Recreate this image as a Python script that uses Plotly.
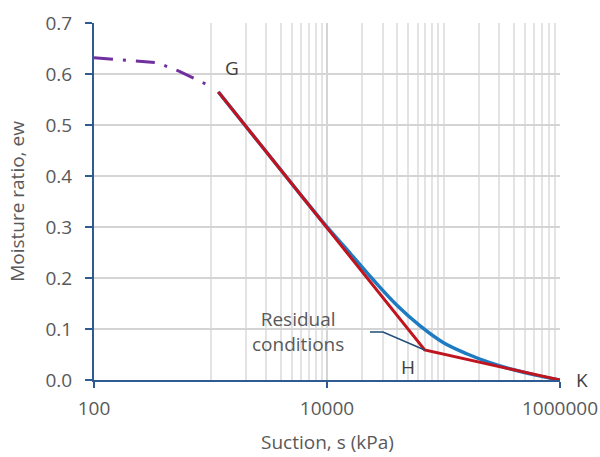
import plotly.graph_objects as go

# Data
purple_s = [100, 150, 350, 530, 810, 1000]
purple_ew = [0.632, 0.629, 0.622, 0.606, 0.587, 0.576]

blue_s = [1167, 3000, 6000, 10000, 16000, 25000, 40000, 63000, 100000, 160000, 250000, 400000, 630000, 1000000]
blue_ew = [0.565, 0.448, 0.362, 0.300, 0.247, 0.196, 0.146, 0.106, 0.073, 0.051, 0.034, 0.020, 0.009, 0.0]

red_s = [1167, 69000, 1000000]
red_ew = [0.565, 0.0588, 0.0]

leader_s = [23400, 30250, 69000]
leader_ew = [0.094, 0.094, 0.0588]

x_tickvals = [100, 10000, 1000000]
x_ticktext = ["100", "10000", "1000000"]
minor_vals = [m * 10 ** e for e in (3, 4, 5) for m in range(1, 10)] + [1000000]

TXT = "#595959"
AX = "#2F5A92"
FONT = "Open Sans"
FS = 19

fig = go.Figure()
fig.add_trace(go.Scatter(x=purple_s, y=purple_ew, mode="lines",
                         line=dict(color="#7030A0", width=3, dash="19px,10px,3px,10px"),
                         hoverinfo="skip", showlegend=False))
fig.add_trace(go.Scatter(x=blue_s, y=blue_ew, mode="lines", line_shape="spline",
                         line=dict(color="#1F7BC1", width=3.5, smoothing=1.0),
                         showlegend=False))
fig.add_trace(go.Scatter(x=red_s, y=red_ew, mode="lines",
                         line=dict(color="#C0141E", width=3),
                         showlegend=False))
fig.add_trace(go.Scatter(x=leader_s, y=leader_ew, mode="lines",
                         line=dict(color="#1F4E79", width=1.5),
                         showlegend=False))

ann_font = dict(family=FONT, size=FS, color="#404040")
fig.add_annotation(x=3.185, y=0.612, text="G", showarrow=False, font=ann_font)
fig.add_annotation(x=4.695, y=0.026, text="H", showarrow=False, font=ann_font)
fig.add_annotation(x=1.064, xref="paper", y=0.0, yref="y", text="K", showarrow=False, font=ann_font)
fig.add_annotation(x=3.751, y=0.096, text="Residual<br>conditions", showarrow=False,
                   font=dict(family=FONT, size=FS, color=TXT), align="center")
# x-axis title placed as annotation (below the tick labels)
fig.add_annotation(x=0.5, xref="paper", y=-0.175, yref="paper", yanchor="middle", xanchor="center",
                   text="Suction, s (kPa)", borderpad=0,
                   showarrow=False, font=dict(family=FONT, size=FS, color=TXT))

fig.update_layout(
    width=600, height=457,
    margin=dict(l=94, r=40, t=23, b=77),
    paper_bgcolor="white", plot_bgcolor="white",
    font=dict(family=FONT, size=FS, color=TXT),
    xaxis=dict(
        type="log", range=[2, 6],
        tickvals=x_tickvals, ticktext=x_ticktext,
        showgrid=True, gridcolor="#d4d4d4", gridwidth=1.5,
        minor=dict(tickvals=minor_vals, showgrid=True, gridcolor="#e3e3e3", gridwidth=1.5, ticks=""),
        showline=True, linecolor=AX, linewidth=2,
        ticks="outside", ticklen=6, tickcolor=AX, tickwidth=2,
        ticklabelstandoff=4,
        tickfont=dict(family=FONT, size=FS, color=TXT),
        zeroline=False, automargin=False,
    ),
    yaxis=dict(
        range=[0, 0.7], dtick=0.1, tickformat=".1f",
        showgrid=True, gridcolor="#d4d4d4", gridwidth=1.5,
        showline=True, linecolor=AX, linewidth=2,
        ticks="outside", ticklen=7, tickcolor=AX, tickwidth=2,
        ticklabelstandoff=9,
        tickfont=dict(family=FONT, size=FS, color=TXT),
        title=dict(text="Moisture ratio, ew", font=dict(family=FONT, size=FS, color=TXT), standoff=16),
        zeroline=False, automargin=False,
    ),
)

fig.write_html("out.html")
